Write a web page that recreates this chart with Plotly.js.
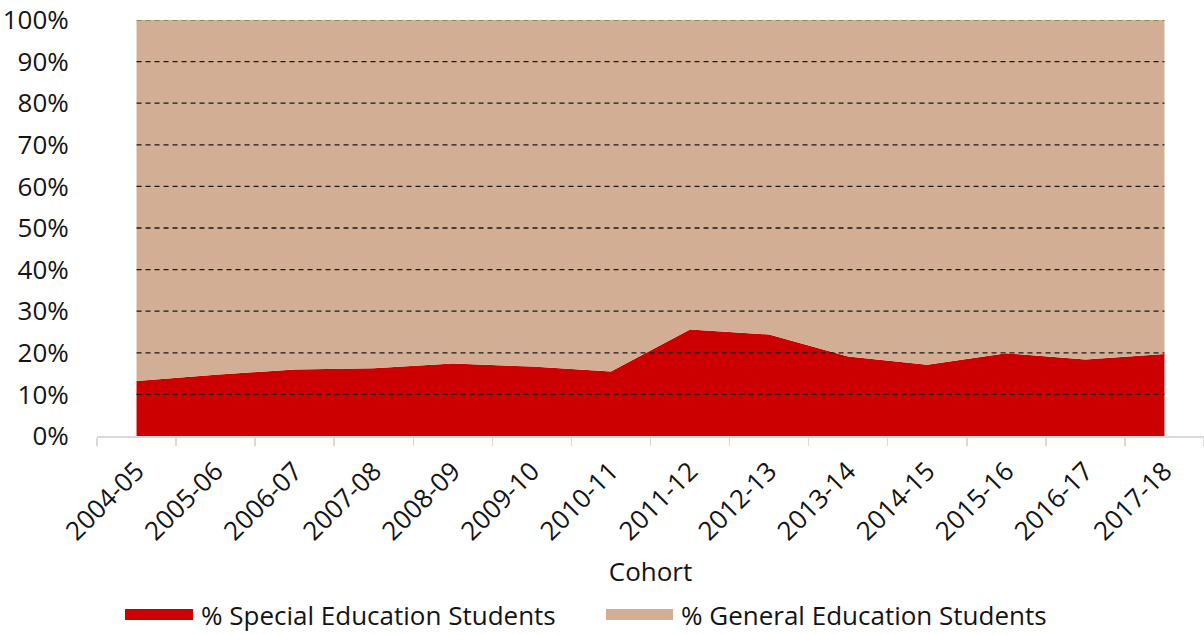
<!DOCTYPE html>
<html>
<head>
<meta charset="utf-8">
<script src="https://cdn.plot.ly/plotly-3.0.1.min.js"></script>
<style>
  html, body { margin: 0; padding: 0; background: #ffffff; }
  #chart { width: 1204px; height: 635px; }
</style>
</head>
<body>
<div id="chart"></div>
<script>
// ---- data ----
const cohorts = ["2004-05","2005-06","2006-07","2007-08","2008-09","2009-10","2010-11",
                 "2011-12","2012-13","2013-14","2014-15","2015-16","2016-17","2017-18"];
const specialEd = [0.132, 0.147, 0.160, 0.163, 0.174, 0.167, 0.155,
                   0.256, 0.244, 0.191, 0.171, 0.199, 0.184, 0.197];
const generalEd = specialEd.map(v => +(1 - v).toFixed(3));
const seriesNames = ["% Special Education Students", "% General Education Students"];
const seriesColors = ["#CC0000", "#D2AF94"];
const yTickVals = [0, 0.1, 0.2, 0.3, 0.4, 0.5, 0.6, 0.7, 0.8, 0.9, 1.0];
const xTitle = "Cohort";

// ---- layout helpers ----
const W = 1204, H = 635;
const M = { l: 97, r: 0, t: 20, b: 199 };
const pw = W - M.l - M.r, ph = H - M.t - M.b;
const px = x => (x - M.l) / pw;          // pixel -> paper x
const py = y => (H - M.b - y) / ph;      // pixel -> paper y
const FONT = "'Open Sans', 'Noto Sans', sans-serif";
const FS = 26;
const TXT = "#141414";

const traces = [
  { x: cohorts, y: specialEd, name: seriesNames[0], type: "scatter", mode: "lines",
    stackgroup: "one", line: { width: 0, color: seriesColors[0] }, fillcolor: seriesColors[0],
    hoverinfo: "skip", showlegend: false },
  { x: cohorts, y: generalEd, name: seriesNames[1], type: "scatter", mode: "lines",
    stackgroup: "one", line: { width: 0, color: seriesColors[1] }, fillcolor: seriesColors[1],
    hoverinfo: "skip", showlegend: false }
];

// dashed gridlines spanning the area only (first to last cohort)
const shapes = yTickVals.filter(v => v > 0).map(v => ({
  type: "line", xref: "x", yref: "y",
  x0: cohorts[0], x1: cohorts[cohorts.length - 1], y0: v, y1: v,
  line: { color: v === 1 ? "#5E8A44" : "#1a1a1a", width: 1.3, dash: "5px,4px" },
  layer: "above"
}));

// custom legend: swatches + labels
const legendItems = [
  { sx0: 125, sx1: 193, tx: 199 },
  { sx0: 606, sx1: 673, tx: 679 }
];
const annotations = [];
legendItems.forEach((it, i) => {
  shapes.push({ type: "rect", xref: "paper", yref: "paper",
    x0: px(it.sx0), x1: px(it.sx1), y0: py(620), y1: py(609),
    fillcolor: seriesColors[i], line: { width: 0 } });
  annotations.push({ xref: "paper", yref: "paper", x: px(it.tx), y: py(615),
    xanchor: "left", yanchor: "middle", showarrow: false, text: seriesNames[i],
    font: { family: FONT, size: FS, color: TXT } });
});

const layout = {
  width: W, height: H,
  margin: M,
  paper_bgcolor: "#ffffff", plot_bgcolor: "rgba(0,0,0,0)",
  showlegend: false,
  font: { family: FONT, size: FS, color: TXT },
  xaxis: {
    type: "category", range: [-0.5, cohorts.length - 0.5],
    tickson: "boundaries", ticks: "outside", ticklen: 8, tickwidth: 1.5, tickcolor: "#d9d9d9",
    showline: true, linecolor: "#d9d9d9", linewidth: 1.5,
    showgrid: false, zeroline: false, tickangle: -45, ticklabelstandoff: 8,
    tickfont: { family: FONT, size: FS, color: TXT },
    title: { text: xTitle, font: { family: FONT, size: FS, color: TXT }, standoff: 16 },
    automargin: false, fixedrange: true
  },
  yaxis: {
    range: [0, 1], tickvals: yTickVals, tickformat: ".0%",
    ticks: "outside", ticklen: 22, tickcolor: "rgba(0,0,0,0)",
    showline: false, showgrid: false, zeroline: false,
    tickfont: { family: FONT, size: FS, color: TXT },
    automargin: false, fixedrange: true
  },
  shapes: shapes,
  annotations: annotations
};

Plotly.newPlot("chart", traces, layout, { staticPlot: true, displayModeBar: false });
</script>
</body>
</html>
